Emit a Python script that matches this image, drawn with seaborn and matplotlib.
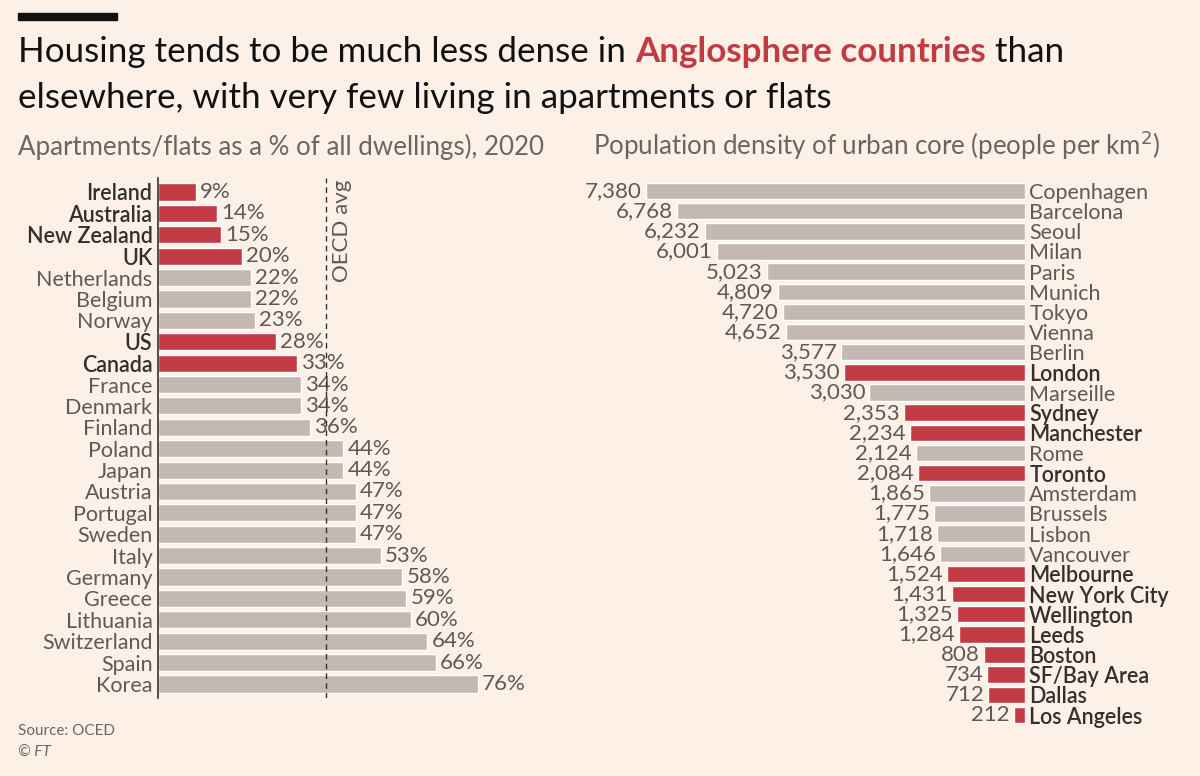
import matplotlib
matplotlib.use("Agg")
import matplotlib.pyplot as plt
import seaborn as sns
import pandas as pd
from matplotlib.patches import Rectangle

# =========================
# DATA
# =========================
countries = ["Ireland", "Australia", "New Zealand", "UK", "Netherlands", "Belgium",
             "Norway", "US", "Canada", "France", "Denmark", "Finland", "Poland",
             "Japan", "Austria", "Portugal", "Sweden", "Italy", "Germany", "Greece",
             "Lithuania", "Switzerland", "Spain", "Korea"]
flat_share = [9, 14, 15, 20, 22, 22, 23, 28, 33, 34, 34, 36, 44, 44, 47, 47, 47,
              53, 58, 59, 60, 64, 66, 76]
anglo_countries = ["Ireland", "Australia", "New Zealand", "UK", "US", "Canada"]
oecd_avg = 40

cities = ["Copenhagen", "Barcelona", "Seoul", "Milan", "Paris", "Munich", "Tokyo",
          "Vienna", "Berlin", "London", "Marseille", "Sydney", "Manchester", "Rome",
          "Toronto", "Amsterdam", "Brussels", "Lisbon", "Vancouver", "Melbourne",
          "New York City", "Wellington", "Leeds", "Boston", "SF/Bay Area", "Dallas",
          "Los Angeles"]
density = [7380, 6768, 6232, 6001, 5023, 4809, 4720, 4652, 3577, 3530, 3030, 2353,
           2234, 2124, 2084, 1865, 1775, 1718, 1646, 1524, 1431, 1325, 1284, 808,
           734, 712, 212]
anglo_cities = ["London", "Sydney", "Manchester", "Toronto", "Melbourne",
                "New York City", "Wellington", "Leeds", "Boston", "SF/Bay Area",
                "Dallas", "Los Angeles"]

# =========================
# STYLE
# =========================
BG = "#FDF1E7"
RED = "#C13A44"
GREY_BAR = "#C3B9B2"
DARK = "#33302E"
MID = "#5E5955"
SUB = "#6B6560"
LBL = 15.5
VAL = 16
BOLD = "semibold"

sns.set_style("white")
plt.rcParams["font.family"] = ["Lato", "DejaVu Sans"]

W, H = 1200, 776
fig = plt.figure(figsize=(12, 7.76), dpi=100, facecolor=BG)


def fx(px):
    return px / W


def fy(py):
    return 1 - py / H


# =========================
# LEFT PANEL
# =========================
df_l = pd.DataFrame({"country": countries, "share": flat_share})
l_x0, l_top, l_bot, l_w = 158, 178, 698, 400
ax1 = fig.add_axes([fx(l_x0), fy(l_bot), l_w / W, (l_bot - l_top) / H])
ax1.set_facecolor("none")
pal_l = [RED if c in anglo_countries else GREY_BAR for c in countries]
sns.barplot(data=df_l, x="share", y="country", hue="country", palette=pal_l,
            legend=False, orient="h", width=0.8, saturation=1, ax=ax1)
ax1.set_xlim(0, l_w / 4.21)
ax1.set_ylim(len(countries) - 1 + 0.654, -0.654)
ax1.axvline(oecd_avg, color=DARK, lw=1, ls=(0, (4, 3)), zorder=5)
ax1.text(oecd_avg + 3.6, -0.6, "OECD avg", rotation=90, ha="center", va="top",
         fontsize=16, color=MID)
for i, v in enumerate(flat_share):
    ax1.annotate(f"{v}%", xy=(v, i), xytext=(3, 0), textcoords="offset points",
                 ha="left", va="center", fontsize=VAL, color=MID)
ax1.set_xlabel("")
ax1.set_ylabel("")
ax1.set_xticks([])
ax1.tick_params(axis="y", length=0, pad=4)
for lbl in ax1.get_yticklabels():
    lbl.set_fontsize(LBL)
    if lbl.get_text() in anglo_countries:
        lbl.set_fontweight(BOLD)
        lbl.set_color(DARK)
    else:
        lbl.set_color(MID)
for s in ["top", "right", "bottom"]:
    ax1.spines[s].set_visible(False)
ax1.spines["left"].set_color(DARK)
ax1.spines["left"].set_linewidth(1.2)

# =========================
# RIGHT PANEL
# =========================
df_r = pd.DataFrame({"city": cities, "density": density})
r_x1, r_top, r_bot, r_w = 1025, 178, 728, 440
ax2 = fig.add_axes([fx(r_x1 - r_w), fy(r_bot), r_w / W, (r_bot - r_top) / H])
ax2.set_facecolor("none")
pal_r = [RED if c in anglo_cities else GREY_BAR for c in cities]
sns.barplot(data=df_r, x="density", y="city", hue="city", palette=pal_r,
            legend=False, orient="h", width=0.82, saturation=1, ax=ax2)
ax2.set_xlim(r_w / 0.05136, 0)
ax2.set_ylim(len(cities) - 1 + 0.645, -0.645)
for i, v in enumerate(density):
    ax2.annotate(f"{v:,}", xy=(v, i), xytext=(-3, 0), textcoords="offset points",
                 ha="right", va="center", fontsize=VAL, color=MID)
ax2.set_xlabel("")
ax2.set_ylabel("")
ax2.set_xticks([])
ax2.yaxis.tick_right()
ax2.tick_params(axis="y", length=0, pad=3)
for lbl in ax2.get_yticklabels():
    lbl.set_fontsize(LBL)
    if lbl.get_text() in anglo_cities:
        lbl.set_fontweight(BOLD)
        lbl.set_color(DARK)
    else:
        lbl.set_color(MID)
sns.despine(ax=ax2, left=True, bottom=True)

# =========================
# TITLES / NOTES
# =========================
fig.patches.append(Rectangle((fx(18), fy(20)), fx(117) - fx(18), 7 / H,
                             transform=fig.transFigure, color="#111111"))

title_size = 25.2
renderer = fig.canvas.get_renderer()
pieces = [("Housing tends to be much less dense in ", "#111111", "normal"),
          ("Anglosphere countries", RED, "bold"),
          (" than", "#111111", "normal")]
x = fx(18)
for txt, col, wt in pieces:
    t = fig.text(x, fy(62), txt, fontsize=title_size, color=col, fontweight=wt,
                 ha="left", va="baseline")
    bb = t.get_window_extent(renderer=renderer)
    x += bb.width / W
fig.text(fx(18), fy(108), "elsewhere, with very few living in apartments or flats",
         fontsize=title_size, color="#111111", ha="left", va="baseline")

fig.text(fx(18), fy(155), "Apartments/flats as a % of all dwellings), 2020",
         fontsize=18.6, color=SUB, ha="left", va="baseline")
fig.text(fx(593), fy(155), "Population density of urban core (people per km$^2$)",
         fontsize=18.6, color=SUB, ha="left", va="baseline")

fig.text(fx(18), fy(735), "Source: OCED", fontsize=11, color=SUB,
         ha="left", va="baseline")
fig.text(fx(18), fy(757), "© FT", fontsize=11, color=SUB, style="italic",
         ha="left", va="baseline")

fig.savefig("out.png", dpi=100, facecolor=BG)
